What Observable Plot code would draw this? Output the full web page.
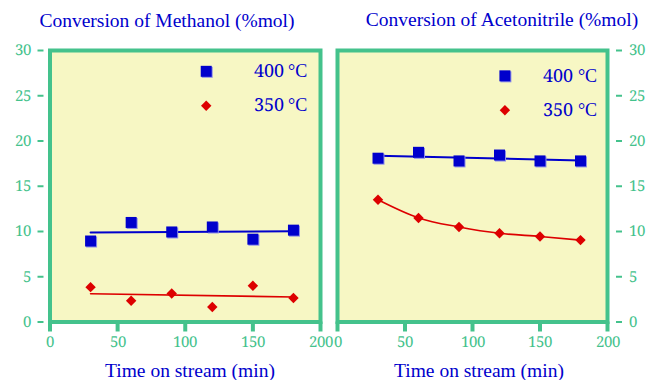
<!DOCTYPE html>
<html>
<head>
<meta charset="utf-8">
<script src="https://cdn.jsdelivr.net/npm/d3@7"></script>
<script src="https://cdn.jsdelivr.net/npm/@observablehq/plot@0.6"></script>
<style>
  /* serif figures: digits from Noto Serif, everything else from Liberation Serif */
  @font-face {
    font-family: "SerifFigures";
    src: local("Noto Serif"), local("NotoSerif-Regular");
    unicode-range: U+0030-0039;
  }
  body { margin: 0; background: #fff; }
  #chart { position: relative; width: 650px; height: 380px; font-family: "Liberation Serif", "Times New Roman", serif; }
  #chart svg { position: absolute; top: 0; overflow: visible; }
  #chart svg text, #chart svg g { font-family: "SerifFigures", "Liberation Serif", "Times New Roman", serif !important; font-variant: normal !important; font-variant-numeric: normal !important; }
  .label { position: absolute; color: #0000cc; white-space: nowrap; transform: translate(-50%, -50%); line-height: 1; }
  .title { font-size: 19.5px; }
  .xlabel { font-size: 19.5px; }
</style>
</head>
<body>
<div id="chart"></div>
<script>
// Time on stream (min) and conversion (%mol) at both temperatures
const time = [30, 60, 90, 120, 150, 180];
const methanol400 = [8.95, 11.0, 9.95, 10.5, 9.15, 10.15];
const methanol350 = [3.85, 2.35, 3.15, 1.65, 4.0, 2.65];
const acetonitrile400 = [18.1, 18.75, 17.8, 18.45, 17.8, 17.8];
const acetonitrile350 = [13.5, 11.5, 10.5, 9.8, 9.45, 9.05];
const seriesNames = ["400 °C", "350 °C"];
const xTicks = [0, 50, 100, 150, 200];
const yTicks = [0, 5, 10, 15, 20, 25, 30];
const titles = ["Conversion of Methanol (%mol)", "Conversion of Acetonitrile (%mol)"];
const xLabel = "Time on stream (min)";

const SERIF = "SerifFigures, Liberation Serif, Times New Roman, serif";
const GREEN = "#44c28c";
const PAPER = "#f7f7c4";
const BLUE = "#0000cc";
const SHADOW = "#8c8ce8";
const RED = "#dd0000";

const chart = document.getElementById("chart");

function rows(ys) { return time.map((t, i) => ({t, v: ys[i]})); }

function panel({hi, lo, curved, left, width, marginLeft, marginRight, yAnchor, yDx, legendAt}) {
  const hiRows = rows(hi), loRows = rows(lo);
  const legend = [
    {x: legendAt.sym, y: legendAt.y[0], name: seriesNames[0]},
    {x: legendAt.sym, y: legendAt.y[1], name: seriesNames[1]}
  ];
  const svg = Plot.plot({
    width, height: 380,
    marginLeft, marginRight, marginTop: 50, marginBottom: 58.5,
    style: "font-size: 15px; background: transparent; overflow: visible;",
    x: {domain: [0, 200]},
    y: {domain: [0, 30]},
    marks: [
      Plot.frame({fill: PAPER, stroke: GREEN, strokeWidth: 4}),
      Plot.axisX({ticks: xTicks, tickSize: 10, tickPadding: 4, strokeWidth: 4, color: GREEN, label: null, fontSize: 15, fontFamily: SERIF, fontVariant: "normal"}),
      Plot.axisY({anchor: yAnchor, ticks: yTicks, tickSize: 6, tickPadding: 7, dx: yDx, strokeWidth: 2, color: GREEN, label: null, fontSize: 15, fontFamily: SERIF, fontVariant: "normal"}),
      // high-temperature series: fitted straight line + square markers
      Plot.linearRegressionY(hiRows, {x: "t", y: "v", stroke: BLUE, strokeWidth: 2, ci: 0}),
      Plot.dot(hiRows, {x: "t", y: "v", symbol: "square", r: 6.2, fill: SHADOW, dx: 1, dy: 1}),
      Plot.dot(hiRows, {x: "t", y: "v", symbol: "square", r: 6.2, fill: BLUE}),
      // low-temperature series: trend line + diamond markers
      curved
        ? Plot.line(loRows, {x: "t", y: "v", stroke: RED, strokeWidth: 1.6, curve: "monotone-x"})
        : Plot.linearRegressionY(loRows, {x: "t", y: "v", stroke: RED, strokeWidth: 1.6, ci: 0}),
      Plot.dot(loRows, {x: "t", y: "v", symbol: "diamond2", r: 4.7, fill: RED}),
      // legend
      Plot.dot(legend.slice(0, 1), {x: "x", y: "y", symbol: "square", r: 6.2, fill: SHADOW, dx: 1, dy: 1}),
      Plot.dot(legend.slice(0, 1), {x: "x", y: "y", symbol: "square", r: 6.2, fill: BLUE}),
      Plot.dot(legend.slice(1), {x: "x", y: "y", symbol: "diamond2", r: 4.7, fill: RED}),
      Plot.text(legend, {x: legendAt.text, y: "y", text: "name", textAnchor: "start", fill: BLUE, fontSize: 18, fontFamily: SERIF, fontVariant: "normal"})
    ]
  });
  svg.style.left = left + "px";
  chart.appendChild(svg);
}

panel({
  hi: methanol400, lo: methanol350, curved: false,
  left: 0, width: 325, marginLeft: 49.5, marginRight: 5,
  yAnchor: "left", yDx: -6,
  legendAt: {sym: 115.5, text: 150.5, y: [27.7, 23.9]}
});
panel({
  hi: acetonitrile400, lo: acetonitrile350, curved: true,
  left: 325, width: 325, marginLeft: 12, marginRight: 43,
  yAnchor: "right", yDx: 8,
  legendAt: {sym: 124, text: 152.5, y: [27.2, 23.4]}
});

function addLabel(text, cls, x, y) {
  const d = document.createElement("div");
  d.className = "label " + cls;
  d.textContent = text;
  d.style.left = x + "px";
  d.style.top = y + "px";
  chart.appendChild(d);
}
addLabel(titles[0], "title", 167, 21);
addLabel(titles[1], "title", 502, 20);
addLabel(xLabel, "xlabel", 190, 371);
addLabel(xLabel, "xlabel", 479, 371);
</script>
</body>
</html>
